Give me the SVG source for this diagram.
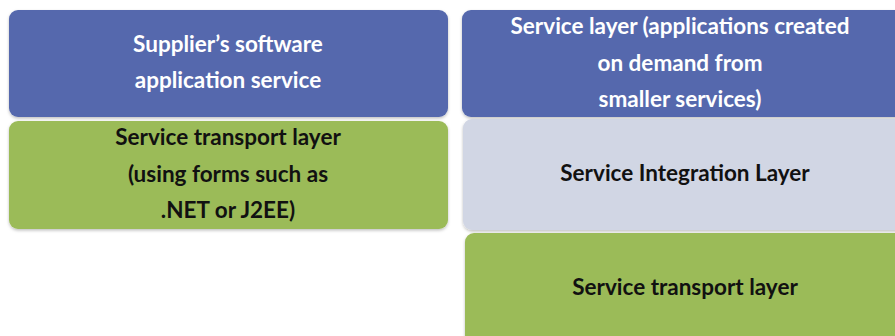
<svg xmlns="http://www.w3.org/2000/svg" width="895" height="336" viewBox="0 0 895 336">
<style>
.t{font-family:Lato,"Open Sans","Liberation Sans",sans-serif;font-weight:bold;font-size:22.5px;text-anchor:middle}
.w{fill:#ffffff}
.k{fill:#111111}
.blue{fill:#5468AD}
.green{fill:#9BBB59}
.gray{fill:#D1D6E4}
</style>
<defs>
<filter id="sh" x="-5%" y="-10%" width="110%" height="125%">
<feDropShadow dx="0" dy="1.5" stdDeviation="1.5" flood-color="#000" flood-opacity="0.25"/>
</filter>
</defs>
<rect width="895" height="336" fill="#ffffff"/>
<g id="supplier-app">
<rect class="blue" x="9" y="10" width="439" height="107" rx="9" filter="url(#sh)"/>
<text class="t w" x="228" y="52">Supplier’s software</text>
<text class="t w" x="228" y="88">application service</text>
</g>
<g id="left-transport">
<rect class="green" x="9" y="121" width="439" height="108" rx="9" filter="url(#sh)"/>
<text class="t k" x="228" y="145">Service transport layer</text>
<text class="t k" x="228" y="182">(using forms such as</text>
<text class="t k" x="228" y="218">.NET or J2EE)</text>
</g>
<g id="service-layer">
<rect class="blue" x="462" y="10" width="445" height="107" rx="9" filter="url(#sh)"/>
<text class="t w" x="680" y="34">Service layer (applications created</text>
<text class="t w" x="680" y="71">on demand from</text>
<text class="t w" x="680" y="107">smaller services)</text>
</g>
<g id="integration-layer">
<rect class="gray" x="463" y="119" width="445" height="111" rx="9" filter="url(#sh)"/>
<text class="t k" x="685" y="181">Service Integration Layer</text>
</g>
<g id="right-transport">
<rect class="green" x="465" y="233" width="445" height="115" rx="9" filter="url(#sh)"/>
<text class="t k" x="685" y="295">Service transport layer</text>
</g>
<g id="connectors"></g>
</svg>
